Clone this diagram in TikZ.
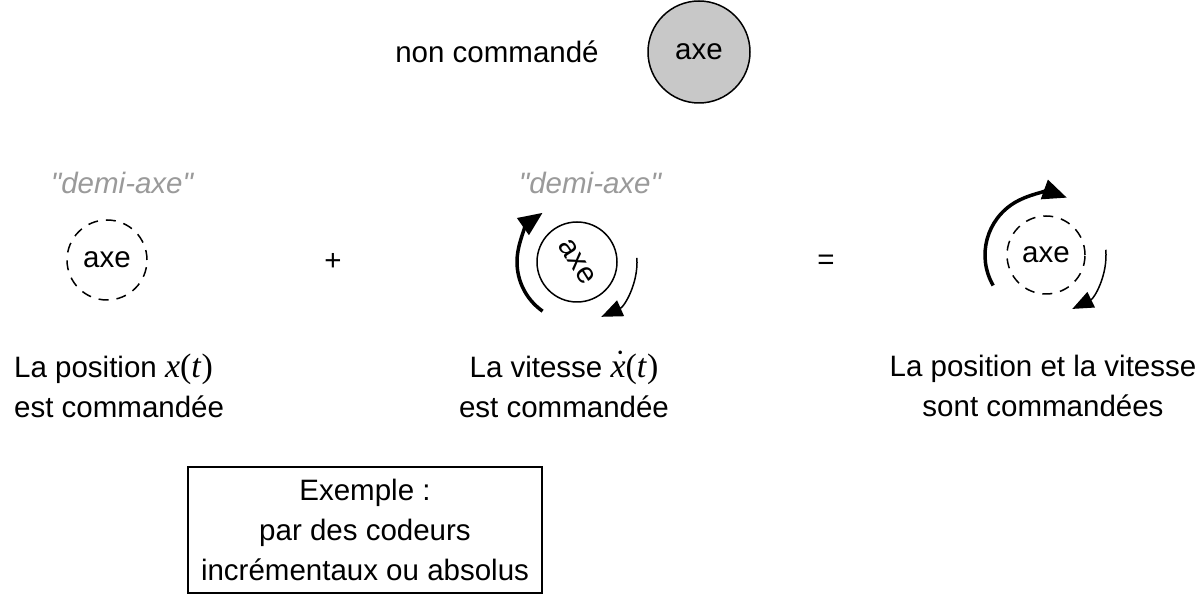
\documentclass[tikz,border=0pt]{standalone}
\usepackage{fontspec}
\setmainfont{Liberation Sans}
\newfontfamily\mserif[Scale=1.15]{Liberation Serif}
\newfontfamily\demifont{Liberation Sans}
\usetikzlibrary{arrows.meta}
\definecolor{axegray}{HTML}{C8C8C8}
\definecolor{demigray}{HTML}{9A9A9A}
\newcommand{\xt}{{\mserif\itshape x\/}{\mserif(}{\mserif\itshape t\/}{\mserif)}}
\newcommand{\xdt}{{\mserif\ooalign{\itshape x\/\cr\hidewidth\kern0.12em\raisebox{0.12em}{˙}\hidewidth\cr}}{\mserif(}{\mserif\itshape t\/}{\mserif)}}
\begin{document}
\begin{tikzpicture}[x=1pt,y=1pt,
  every node/.style={font=\fontsize{29.5}{40}\selectfont, inner sep=0pt},
  axecircle/.style={circle, draw, line width=1.5pt, minimum size=80pt},
  dashcircle/.style={circle, draw, line width=1.5pt, minimum size=80pt, dash pattern=on 10pt off 8pt},
  demi/.style={text=demigray, font=\fontsize{29.5}{40}\selectfont\demifont\itshape},
  thickarc/.style={line width=3.5pt, -{Triangle[length=24pt,width=20pt]}},
  thinarc/.style={line width=1.5pt, -{Triangle[length=21pt,width=17pt]}},
  label/.style={align=center}
]
\useasboundingbox (0,0) rectangle (1204,615);

\node (nc) at (497,563) {non commandé};
\node[axecircle, fill=axegray, minimum size=102pt] (g) at (699,563) {axe};

\node[demi] (d1) at (122,432) {"demi-axe"};
\node[demi] (d2) at (590,432) {"demi-axe"};

\node[dashcircle] (c1) at (107,355) {axe};
\node (plus) at (333,353) {+};
\node[axecircle] (c2) at (577,353) {};
\node[rotate=-58] (t2) at (c2.center) {axe};
\node (eq) at (826,353) {=};
\node[dashcircle, minimum size=78pt] (c3) at (1046,360) {axe};

\draw[thickarc] (c2.center) ++(235:60) arc[start angle=235, end angle=125, radius=60];
\draw[thinarc] (c2.center) ++(4:60) arc[start angle=4, end angle=-66, radius=60];
\draw[thickarc] (c3.center) ++(210:61) arc[start angle=210, end angle=70, radius=61];
\draw[thinarc] (c3.center) ++(5:60) arc[start angle=5, end angle=-64, radius=60];

\node[align=left, anchor=west] (l1) at (14,229) {La position \xt\\est commandée};
\node[label] (l2) at (564,229) {La vitesse \xdt\\est commandée};
\node[label] (l3) at (1043,229) {La position et la vitesse\\sont commandées};

\node[draw, line width=1.5pt, minimum width=354pt, minimum height=126pt, align=center] (box) at (365,85) {Exemple :\\par des codeurs\\incrémentaux ou absolus};
\end{tikzpicture}
\end{document}
